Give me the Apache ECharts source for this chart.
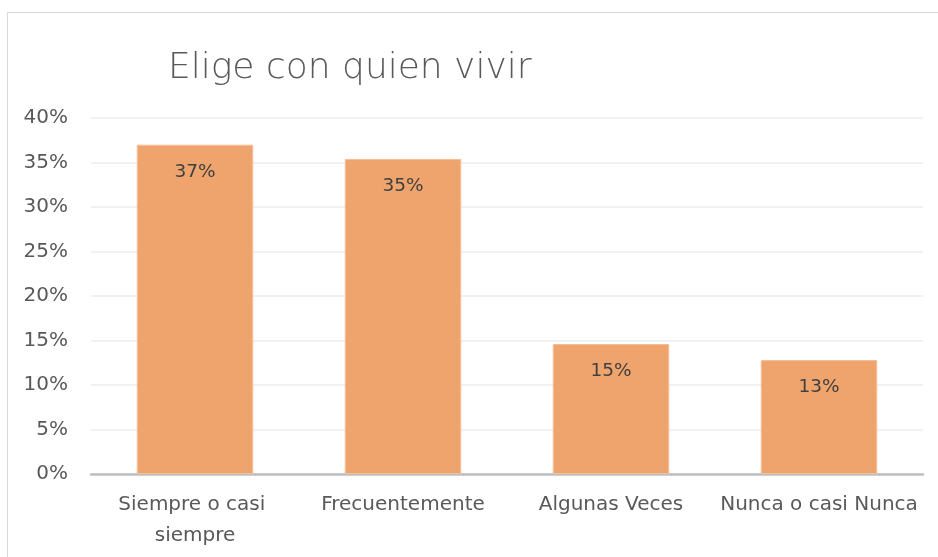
<!DOCTYPE html>
<html>
<head>
<meta charset="utf-8">
<script src="https://cdn.jsdelivr.net/npm/echarts@6/dist/echarts.min.js"></script>
<style>
html,body{margin:0;padding:0;background:#fff;}
#frame{position:absolute;left:7px;top:12px;width:940px;height:560px;border:1.5px solid #d9d9d9;box-sizing:border-box;}
#c{position:absolute;left:0;top:0;width:938px;height:557px;}
</style>
</head>
<body>
<div id="frame"></div>
<div id="c"></div>
<script>
const titleText = 'Elige con quien vivir';
const categories = ['Siempre o casi siempre', 'Frecuentemente', 'Algunas Veces', 'Nunca o casi Nunca'];
const values = [0.37, 0.354, 0.146, 0.128];
const yTicks = [0, 0.05, 0.10, 0.15, 0.20, 0.25, 0.30, 0.35, 0.40];

const FONT = '"DejaVu Sans", "Open Sans", sans-serif';
const chart = echarts.init(document.getElementById('c'), null, {renderer: 'canvas'});
chart.setOption({
  backgroundColor: 'transparent',
  animation: false,
  title: {
    text: titleText,
    left: 163,
    top: 46,
    textStyle: {fontFamily: FONT, fontWeight: 200, fontSize: 36, color: '#595959'}
  },
  grid: {left: 91, right: 15, top: 118, bottom: 83, containLabel: false},
  xAxis: {
    type: 'category',
    data: categories,
    axisLine: {lineStyle: {color: '#BFBFBF', width: 2.5}},
    axisTick: {show: false},
    axisLabel: {
      fontFamily: FONT, fontSize: 20, color: '#595959', margin: 15,
      lineHeight: 31, width: 200, overflow: 'break', interval: 0
    }
  },
  yAxis: {
    type: 'value',
    min: yTicks[0],
    max: yTicks[yTicks.length - 1],
    interval: 0.05,
    axisLine: {show: false},
    axisTick: {show: false},
    splitLine: {lineStyle: {color: '#EDEDED', width: 1.5}},
    axisLabel: {
      fontFamily: FONT, fontSize: 20, color: '#595959', margin: 23,
      formatter: v => Math.round(v * 100) + '%'
    }
  },
  series: [{
    type: 'bar',
    data: values,
    barWidth: '56%',
    itemStyle: {color: '#F0A46D', borderColor: '#F5BE95', borderWidth: 1},
    label: {
      show: true,
      position: 'insideTop',
      distance: 18,
      fontFamily: FONT, fontSize: 18.5, color: '#404040',
      formatter: p => Math.round(p.value * 100) + '%'
    }
  }]
});
</script>
</body>
</html>
